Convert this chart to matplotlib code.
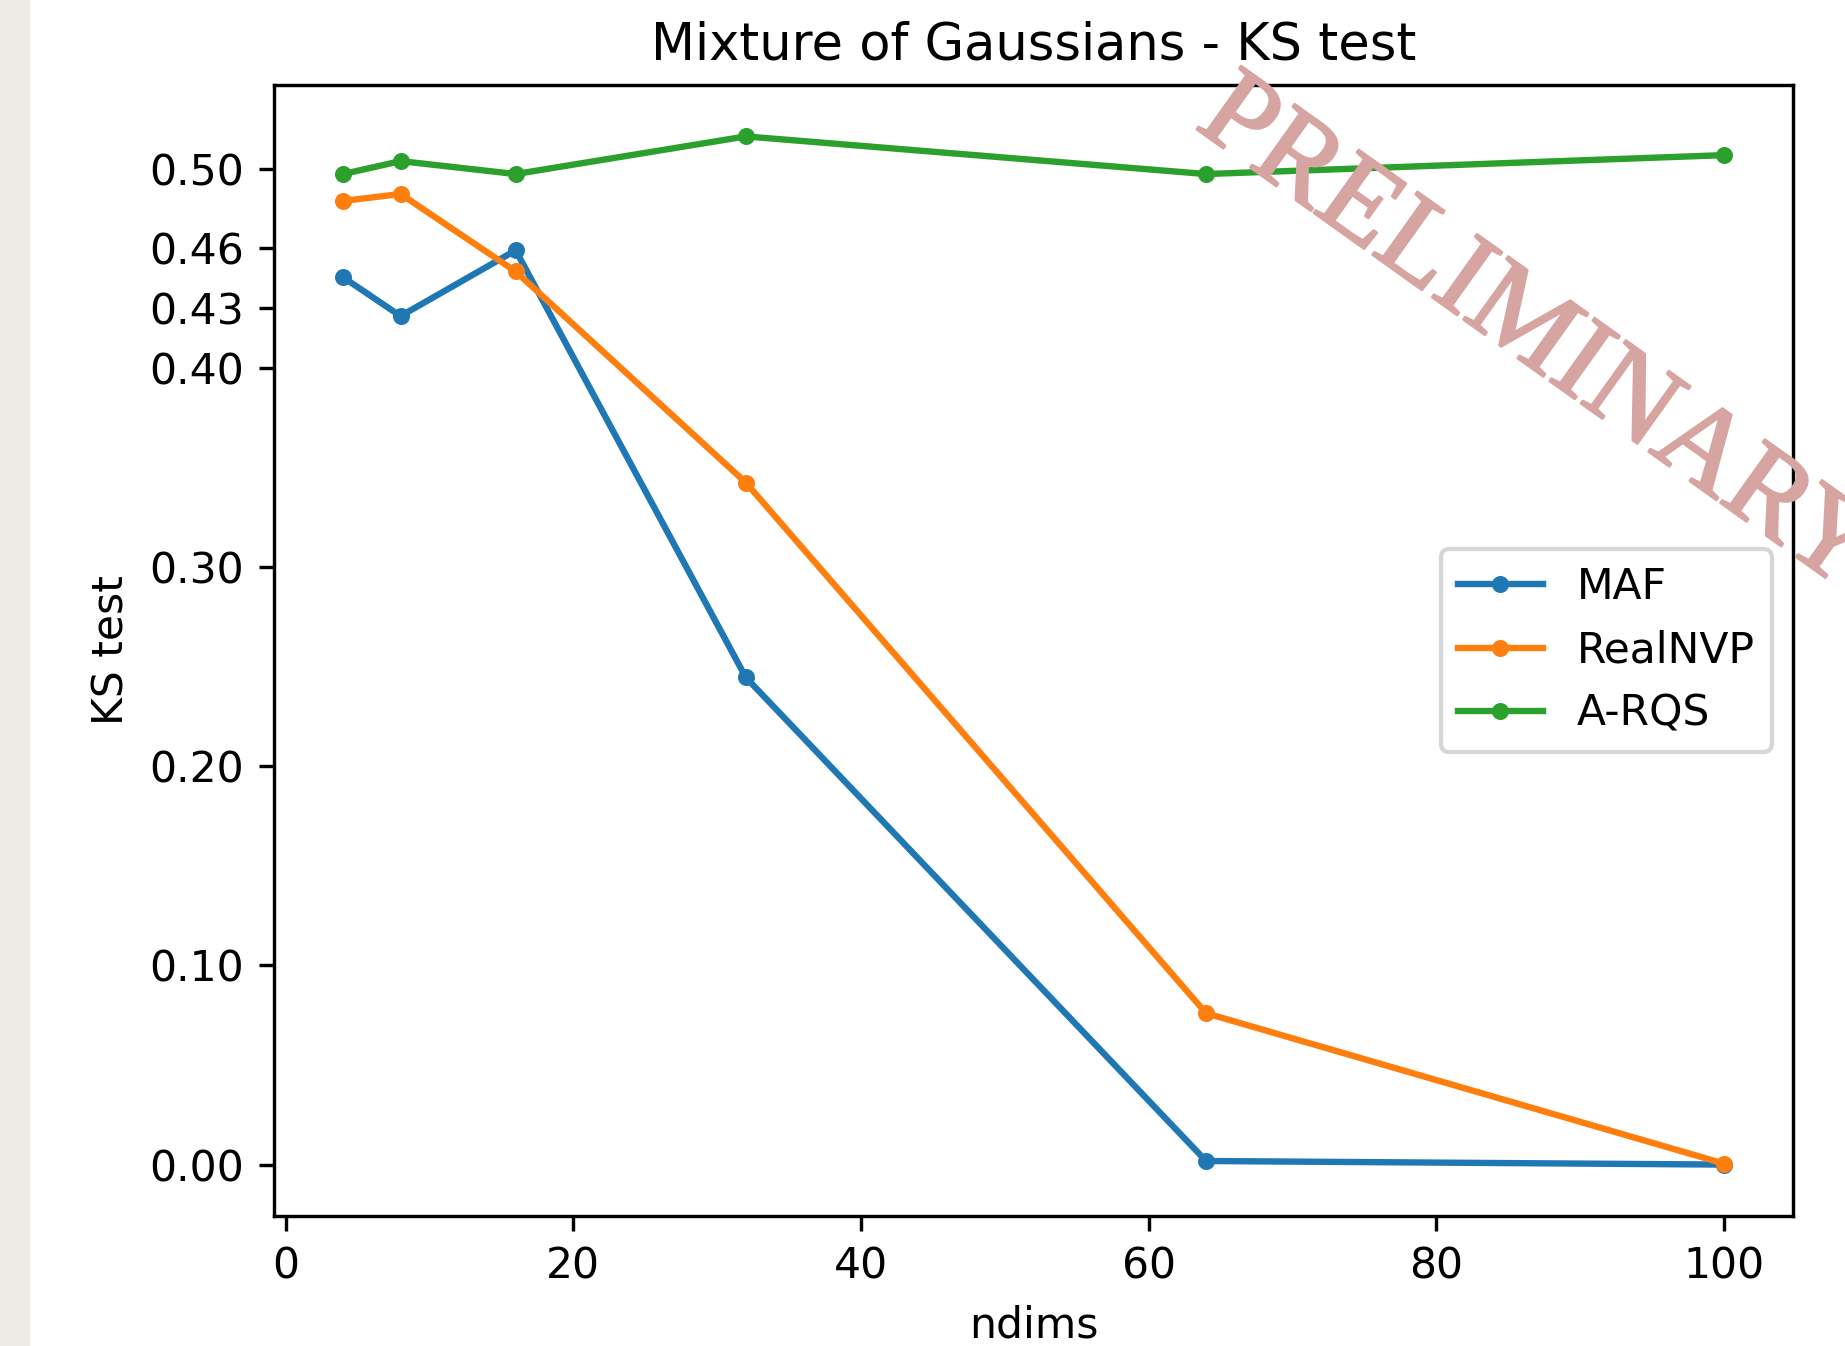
import matplotlib
matplotlib.use("Agg")
import matplotlib.pyplot as plt
import matplotlib.patheffects as pe
from matplotlib.patches import Rectangle

ndims = [4, 8, 16, 32, 64, 100]
maf = [0.4455, 0.426, 0.459, 0.2446, 0.0018, 0.0]
realnvp = [0.4838, 0.4873, 0.4484, 0.3424, 0.076, 0.0005]
arqs = [0.4973, 0.5038, 0.4973, 0.5162, 0.4973, 0.5068]
yticks = [0.0, 0.1, 0.2, 0.3, 0.4, 0.43, 0.46, 0.5]

dpi = 306
fig = plt.figure(figsize=(1845 / dpi, 1346 / dpi), dpi=dpi)
fig.subplots_adjust(left=274 / 1845, right=1793 / 1845, top=1 - 85 / 1346, bottom=1 - 1216 / 1346)
ax = fig.add_subplot(111)

# paper-like strip on the left edge
fig.patches.append(Rectangle((0, 0), 28 / 1845, 1, transform=fig.transFigure,
                             color='#eeebe6', zorder=0))

ax.plot(ndims, maf, marker='.', label='MAF')
ax.plot(ndims, realnvp, marker='.', label='RealNVP')
ax.plot(ndims, arqs, marker='.', label='A-RQS')

ax.set_yticks(yticks)
ax.set_title('Mixture of Gaussians - KS test')
ax.set_xlabel('ndims')
ax.set_ylabel('KS test')
ax.legend(loc='center right')

fig.text(1536 / 1845, 1 - 336 / 1346, 'PRELIMINARY', rotation=-35.5,
         ha='center', va='center', fontsize=27.8, family='Liberation Serif',
         color='#d6a5a1', zorder=10,
         path_effects=[pe.withStroke(linewidth=0.6, foreground='#d6a5a1')])

fig.savefig('out.png', dpi=dpi)
